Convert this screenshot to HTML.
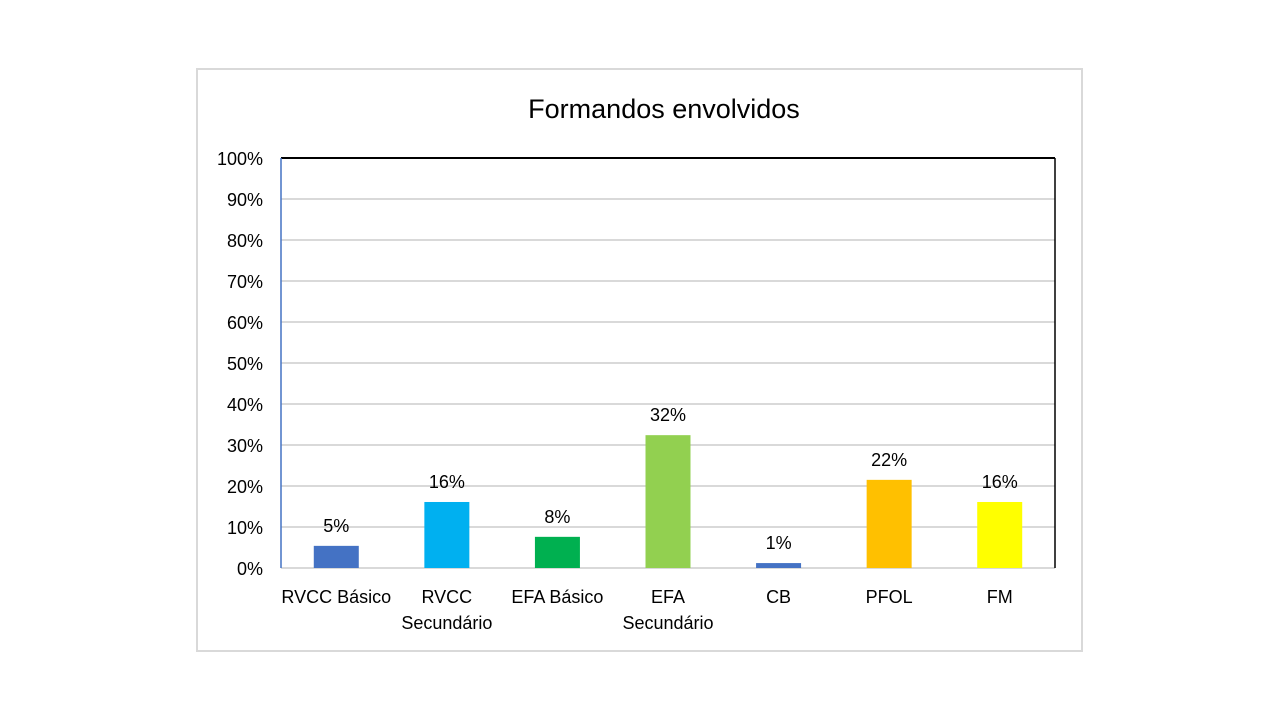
<!DOCTYPE html>
<html><head><meta charset="utf-8"><style>
body{margin:0;background:#fff;}
svg{display:block;font-family:"Liberation Sans",Calibri,sans-serif;}
</style></head><body>
<svg width="1280" height="720">
<rect x="197" y="69" width="885" height="582" fill="#fff" stroke="#d9d9d9" stroke-width="2"/>
<text x="664" y="118" text-anchor="middle" font-size="27" fill="#000">Formandos envolvidos</text>
<g id="grid"></g><g id="bars"></g><g id="labels"></g>
</svg>
<script>
const categories=[["RVCC Básico"],["RVCC","Secundário"],["EFA Básico"],["EFA","Secundário"],["CB"],["PFOL"],["FM"]];
const values=[5.4,16.1,7.6,32.4,1.2,21.5,16.1];
const valueLabels=["5%","16%","8%","32%","1%","22%","16%"];
const colors=["#4472c4","#00b0f0","#00b050","#92d050","#4472c4","#ffc000","#ffff00"];
const ticks=[0,10,20,30,40,50,60,70,80,90,100];
const X0=281,X1=1055,Y0=568,Y1=158;
const NS="http://www.w3.org/2000/svg";
const y=v=>Y0-(v/100)*(Y0-Y1);
const bw=(X1-X0)/categories.length;
const xc=i=>X0+bw*(i+0.5);
function mk(tag,attrs,parent,txt){const e=document.createElementNS(NS,tag);for(const k in attrs)e.setAttribute(k,attrs[k]);if(txt!==undefined)e.textContent=txt;document.getElementById(parent).appendChild(e);return e;}
ticks.forEach(t=>{
  const l=mk('line',{x1:X0,x2:X1,y1:y(t),y2:y(t),stroke:t===100?'#000':'#d9d9d9','stroke-width':2},'grid');
  
  
  const tx=mk('text',{x:263,y:y(t)+7,'text-anchor':'end','font-size':18,fill:'#000'},'grid',t+'%');
  
  
});
const la=mk('line',{x1:X0,x2:X0,y1:Y1,y2:Y0,stroke:'#4472c4','stroke-width':1.5},'grid');


const ra=mk('line',{x1:X1,x2:X1,y1:Y1,y2:Y0,stroke:'#000','stroke-width':1.5},'grid');


values.forEach((v,i)=>{
  const r=mk('rect',{x:xc(i)-22.5,y:y(v),width:45,height:Y0-y(v),fill:colors[i]},'bars');
  
  
  const t=mk('text',{x:xc(i),y:y(v)-14,'text-anchor':'middle','font-size':18,fill:'#000'},'labels',valueLabels[i]);
  
  
  categories[i].forEach((line,j)=>{
    const c=mk('text',{x:xc(i),y:603+j*26,'text-anchor':'middle','font-size':18,fill:'#000'},'labels',line);
    
    
  });
});
</script>
</body></html>
